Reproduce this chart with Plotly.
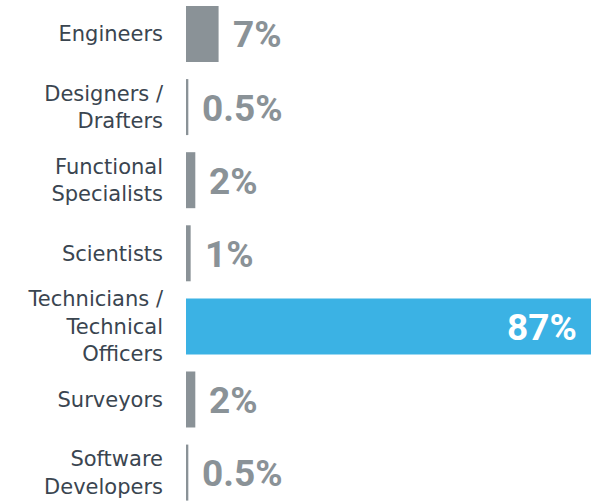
import plotly.graph_objects as go

categories = [
    "Engineers",
    "Designers /<br>Drafters",
    "Functional<br>Specialists",
    "Scientists",
    "Technicians /<br>Technical<br>Officers",
    "Surveyors",
    "Software<br>Developers",
]
values = [7, 0.5, 2, 1, 87, 2, 0.5]
value_labels = ["7%", "0.5%", "2%", "1%", "87%", "2%", "0.5%"]
highlight = "Technicians /<br>Technical<br>Officers"

GRAY = "#8a9297"
BLUE = "#3bb2e4"
LABEL = "#3a4550"

colors = [BLUE if c == highlight else GRAY for c in categories]

fig = go.Figure(
    go.Bar(
        x=values,
        y=categories,
        orientation="h",
        marker=dict(color=colors, line=dict(width=0)),
        hoverinfo="skip",
    )
)

for c, v, t in zip(categories, values, value_labels):
    inside = c == highlight
    fig.add_annotation(
        x=v, y=c, text=t, showarrow=False,
        xanchor="right" if inside else "left",
        xshift=-12 if inside else 12,
        yshift=-1,
        font=dict(family="Roboto", size=37,
                  color="white" if inside else GRAY, weight="bold"),
    )

fig.update_layout(
    width=603, height=503,
    margin=dict(l=186, r=0, t=0, b=0),
    paper_bgcolor="white", plot_bgcolor="white",
    bargap=0.234,
    showlegend=False,
    xaxis=dict(range=[0, 89.58], visible=False, fixedrange=True),
    yaxis=dict(
        type="category",
        categoryorder="array", categoryarray=categories,
        range=[6.416, -0.465],
        showgrid=False, zeroline=False, showline=False,
        ticks="", ticklabelstandoff=22,
        tickfont=dict(family="DejaVu Sans", size=21, color=LABEL),
        fixedrange=True,
    ),
)

fig.write_html("out.html")
